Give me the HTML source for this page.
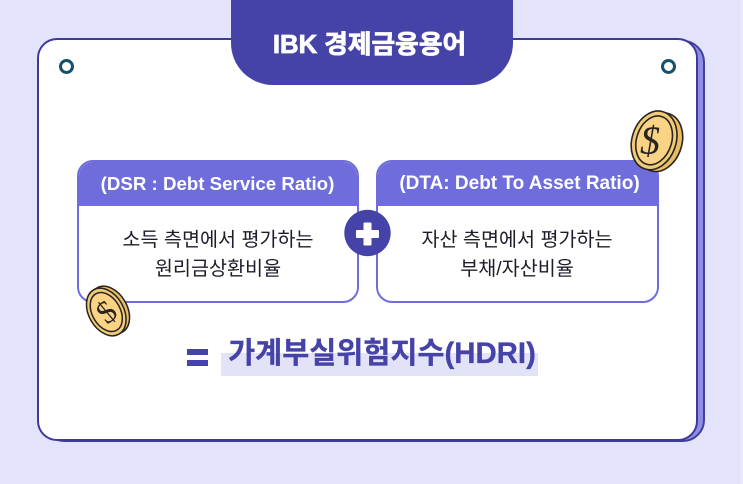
<!DOCTYPE html>
<html lang="ko">
<head>
<meta charset="utf-8">
<style>
html,body{margin:0;padding:0;}
body{width:743px;height:484px;overflow:hidden;background:#e3e3fb;position:relative;font-family:"Liberation Sans","Noto Sans CJK KR",sans-serif;}
.a{position:absolute;box-sizing:border-box;}
.t{position:absolute;white-space:nowrap;text-align:center;transform:translateX(-50%);}
</style>
</head>
<body>
<div class="a" style="left:740px;top:0;width:3px;height:484px;background:#e8e8fb"></div>
<div class="a" style="left:42px;top:40px;width:663px;height:402px;border-radius:22px;background:#8f8ce6;border:2px solid #423f9f"></div>
<div class="a" style="left:37px;top:38px;width:661px;height:403px;border-radius:20px;background:#fff;border:2px solid #3e3b98"></div>
<div class="a" style="left:231px;top:-2px;width:282px;height:87px;background:#4643a8;border-radius:0 0 42px 42px"></div>
<div class="t" style="left:369.5px;top:29px;font-size:25.7px;line-height:32px;font-weight:700;color:#fff;-webkit-text-stroke:.8px #fff">IBK 경제금융용어</div>
<div class="a" style="left:59px;top:59px;width:15px;height:15px;border-radius:50%;border:3px solid #14506f"></div>
<div class="a" style="left:661px;top:59px;width:15px;height:15px;border-radius:50%;border:3px solid #14506f"></div>

<div class="a" style="left:77px;top:160px;width:282px;height:143px;border-radius:16px;border:2px solid #6f6cdc;background:#fff;overflow:hidden">
  <div class="a" style="left:-2px;top:-2px;width:282px;height:46px;background:#6f6cdc"></div>
</div>
<div class="a" style="left:376px;top:160px;width:283px;height:143px;border-radius:16px;border:2px solid #6f6cdc;background:#fff;overflow:hidden">
  <div class="a" style="left:-2px;top:-2px;width:283px;height:46px;background:#6f6cdc"></div>
</div>
<div class="t" style="left:217.5px;top:172px;font-size:18.7px;line-height:24px;font-weight:700;color:#fff">(DSR : Debt Service Ratio)</div>
<div class="t" style="left:519.5px;top:172px;font-size:19px;line-height:24px;font-weight:700;color:#fff">(DTA: Debt To Asset Ratio)</div>
<div class="t" style="left:218px;top:226px;font-size:19.6px;line-height:29px;color:#1d1d2b">소득 측면에서 평가하는<br>원리금상환비율</div>
<div class="t" style="left:517px;top:226px;font-size:19.6px;line-height:29px;color:#1d1d2b">자산 측면에서 평가하는<br>부채/자산비율</div>

<svg class="a" style="left:344px;top:209px" width="47" height="48" viewBox="0 0 47 48">
  <circle cx="23.5" cy="24" r="23.2" fill="#4643a8"/>
  <rect x="12" y="21" width="23" height="8" rx="1" fill="#fff"/>
  <rect x="19.5" y="13.5" width="8" height="23" rx="1" fill="#fff"/>
</svg>

<div class="a" style="left:221px;top:353px;width:317px;height:23px;background:#e3e3f7"></div>
<div class="a" style="left:187px;top:349px;width:21px;height:6px;background:#4643a8"></div>
<div class="a" style="left:187px;top:360px;width:21px;height:6px;background:#4643a8"></div>
<div class="t" style="left:382px;top:336px;font-size:29.4px;line-height:36px;font-weight:700;color:#4643a8;-webkit-text-stroke:.3px #4643a8">가계부실위험지수(HDRI)</div>

<svg class="a" style="left:625px;top:105px" width="63" height="72" viewBox="0 0 63 72">
  <g transform="rotate(18 31 36)" stroke="#2a2520" stroke-width="1.6">
    <ellipse cx="35" cy="36" rx="22" ry="30" fill="#e9bd63"/>
    <ellipse cx="29" cy="36" rx="22" ry="30" fill="#f0cb7a"/>
    <ellipse cx="29" cy="36" rx="17.5" ry="25" fill="#fbd384"/>
  </g>
  <text x="25" y="49" font-family="Liberation Serif,serif" font-style="italic" font-size="40" text-anchor="middle" fill="#2a2520">$</text>
</svg>

<svg class="a" style="left:82px;top:283px" width="52" height="56" viewBox="0 0 52 56">
  <g transform="rotate(-30 26 28)" stroke="#2a2520" stroke-width="1.5">
    <ellipse cx="28" cy="28" rx="17.5" ry="25.5" fill="#e9bd63"/>
    <ellipse cx="24" cy="28" rx="17.5" ry="25.5" fill="#f0cb7a"/>
    <ellipse cx="24" cy="28" rx="14" ry="21" fill="#fbd384"/>
  </g>
  <text x="0" y="0" transform="translate(25 28) rotate(-40) translate(-9 11)" font-family="Liberation Serif,serif" font-size="32" fill="#2a2520">$</text>
</svg>
</body>
</html>
